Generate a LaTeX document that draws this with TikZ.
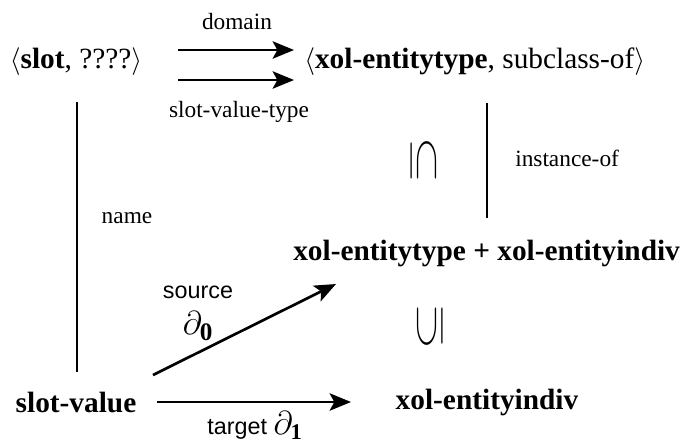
\documentclass[tikz,border=0pt]{standalone}
\usepackage{fontspec}
\setmainfont{Liberation Serif}
\setsansfont{Liberation Sans}
\usepackage{graphicx}
\usetikzlibrary{arrows.meta}
\tikzset{
  big/.style={font=\fontsize{22}{26}\selectfont, inner sep=0pt},
  small/.style={font=\fontsize{17.5}{20}\selectfont, inner sep=0pt},
  sans/.style={font=\sffamily\fontsize{17.5}{20}\selectfont, inner sep=0pt},
  sym/.style={font=\fontsize{26}{26}\selectfont, inner sep=0pt},
  arr/.style={line width=2pt, -{Stealth[length=16pt,width=13pt,inset=3.5pt]}},
  bar/.style={line width=0.9pt},
}
\begin{document}
\begin{tikzpicture}[x=0.75pt,y=-0.75pt]
\useasboundingbox (0,0) rectangle (682,444);
% nodes
\node[big] (slot) at (76,62) {$\langle$\textbf{slot}, ????$\rangle$};
\node[big, anchor=west] (ent) at (304,62) {$\langle$\textbf{xol-entitytype}, subclass-of$\rangle$};
\node[big, anchor=west] (sum) at (293,253) {\textbf{xol-entitytype + xol-entityindiv}};
\node[big] (sv) at (76,402) {\textbf{slot-value}};
\node[big] (ei) at (487,402) {\textbf{xol-entityindiv}};
% labels
\node[small] (ldom) at (237,22) {domain};
\node[small] (lsvt) at (239,112) {slot-value-type};
\node[small] (lname) at (127,218) {name};
\node[small, anchor=west] (linst) at (515,158) {instance-of};
\node[sans] (lsrc) at (198,292) {source};
\node[big, font=\fontsize{27}{30}\selectfont] (ld0) at (198,326) {$\partial_{\mathbf{0}}$};
\node[sans] (ltgt) at (255,425) {target {\fontsize{24}{26}\selectfont$\partial_{\mathbf{1}}$}};
\node[sym] (sub1) at (424,160) {\rotatebox{-90}{\scalebox{1.85}[1]{$\subseteq$}}};
\node[sym] (sub2) at (430,327) {\rotatebox{90}{\scalebox{1.85}[1]{$\subseteq$}}};
% coordinates
\coordinate (a1s) at (178,50); \coordinate (a1e) at (294,50);
\coordinate (a2s) at (178,80); \coordinate (a2e) at (294,80);
\coordinate (vl1) at (77,102); \coordinate (vl2) at (77,372);
\coordinate (vr1) at (487,103); \coordinate (vr2) at (487,218);
\coordinate (ds) at (153,375); \coordinate (de) at (336,284);
\coordinate (bs) at (157,402); \coordinate (be) at (351,402);
% connectors
\draw[arr] (a1s) -- (a1e);
\draw[arr] (a2s) -- (a2e);
\draw[bar] (vl1) -- (vl2);
\draw[bar] (vr1) -- (vr2);
\draw[arr] (ds) -- (de);
\draw[arr] (bs) -- (be);
\end{tikzpicture}
\end{document}
